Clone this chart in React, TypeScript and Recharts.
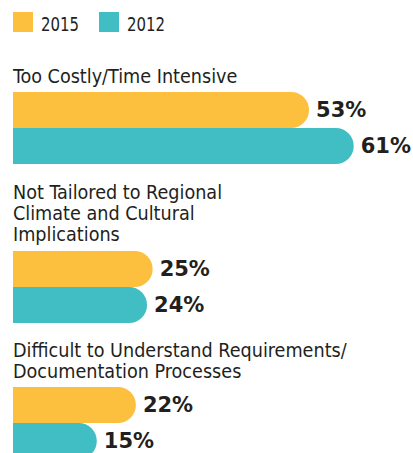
import React from "react";
import { BarChart, Bar, XAxis, YAxis, LabelList } from "recharts";

const seriesNames = ["2015", "2012"];
const seriesColors = ["#FDBF3E", "#41BEC4"];
const categoryLines = [
  ["Too Costly/Time Intensive"],
  ["Not Tailored to Regional", "Climate and Cultural", "Implications"],
  ["Difficult to Understand Requirements/", "Documentation Processes"],
];
const values2015 = [53, 25, 22];
const values2012 = [61, 24, 15];

const titleTops = [65.5, 181.5, 339.5];
const chartTops = [92, 251, 387];

const TITLE_FONT = '"DejaVu Sans Condensed", "DejaVu Sans", sans-serif';
const VALUE_FONT = '"DejaVu Sans", Verdana, sans-serif';
const TEXT_COLOR = "#231F20";

const pct = (v: any) => `${v}%`;

function Group({ idx }: { idx: number }) {
  const data = [
    {
      category: categoryLines[idx].join(" "),
      v2015: values2015[idx],
      v2012: values2012[idx],
    },
  ];
  const labelStyle = {
    fontFamily: VALUE_FONT,
    fontWeight: 700,
    fontSize: 21,
  };
  return (
    <>
      <div
        style={{
          position: "absolute",
          left: 13,
          top: titleTops[idx],
          fontFamily: TITLE_FONT,
          fontSize: 19.6,
          lineHeight: "21px",
          color: TEXT_COLOR,
          whiteSpace: "nowrap",
        }}
      >
        {categoryLines[idx].map((l, i) => (
          <div key={i} style={{ height: 21 }}>
            {l}
          </div>
        ))}
      </div>
      <div style={{ position: "absolute", left: 0, top: chartTops[idx] }}>
        <BarChart
          layout="vertical"
          width={413}
          height={72}
          data={data}
          margin={{ top: 0, right: 9, bottom: 0, left: 13 }}
          barGap={0}
          barCategoryGap={0}
        >
          <XAxis type="number" domain={[0, 70]} hide />
          <YAxis type="category" dataKey="category" hide />
          <Bar
            dataKey="v2015"
            name={seriesNames[0]}
            fill={seriesColors[0]}
            radius={[0, 18, 18, 0]}
            isAnimationActive={false}
          >
            <LabelList
              dataKey="v2015"
              position="right"
              offset={7}
              formatter={pct}
              fill={TEXT_COLOR}
              style={labelStyle}
            />
          </Bar>
          <Bar
            dataKey="v2012"
            name={seriesNames[1]}
            fill={seriesColors[1]}
            radius={[0, 18, 18, 0]}
            isAnimationActive={false}
          >
            <LabelList
              dataKey="v2012"
              position="right"
              offset={7}
              formatter={pct}
              fill={TEXT_COLOR}
              style={labelStyle}
            />
          </Bar>
        </BarChart>
      </div>
    </>
  );
}

export default function App() {
  const legendLefts = [13, 99];
  return (
    <div
      style={{
        position: "absolute",
        left: 0,
        top: 0,
        width: 413,
        height: 453,
        overflow: "hidden",
        background: "#fff",
      }}
    >
      {seriesNames.map((n, i) => (
        <div key={n}>
          <div
            style={{
              position: "absolute",
              left: legendLefts[i],
              top: 12,
              width: 20,
              height: 20,
              background: seriesColors[i],
            }}
          />
          <div
            style={{
              position: "absolute",
              left: legendLefts[i] + 28,
              top: 13.6,
              fontFamily: TITLE_FONT,
              fontSize: 20,
              lineHeight: "21px",
              color: TEXT_COLOR,
              transform: "scaleX(0.83)",
              transformOrigin: "left center",
            }}
          >
            {n}
          </div>
        </div>
      ))}
      {categoryLines.map((_, i) => (
        <Group key={i} idx={i} />
      ))}
    </div>
  );
}
